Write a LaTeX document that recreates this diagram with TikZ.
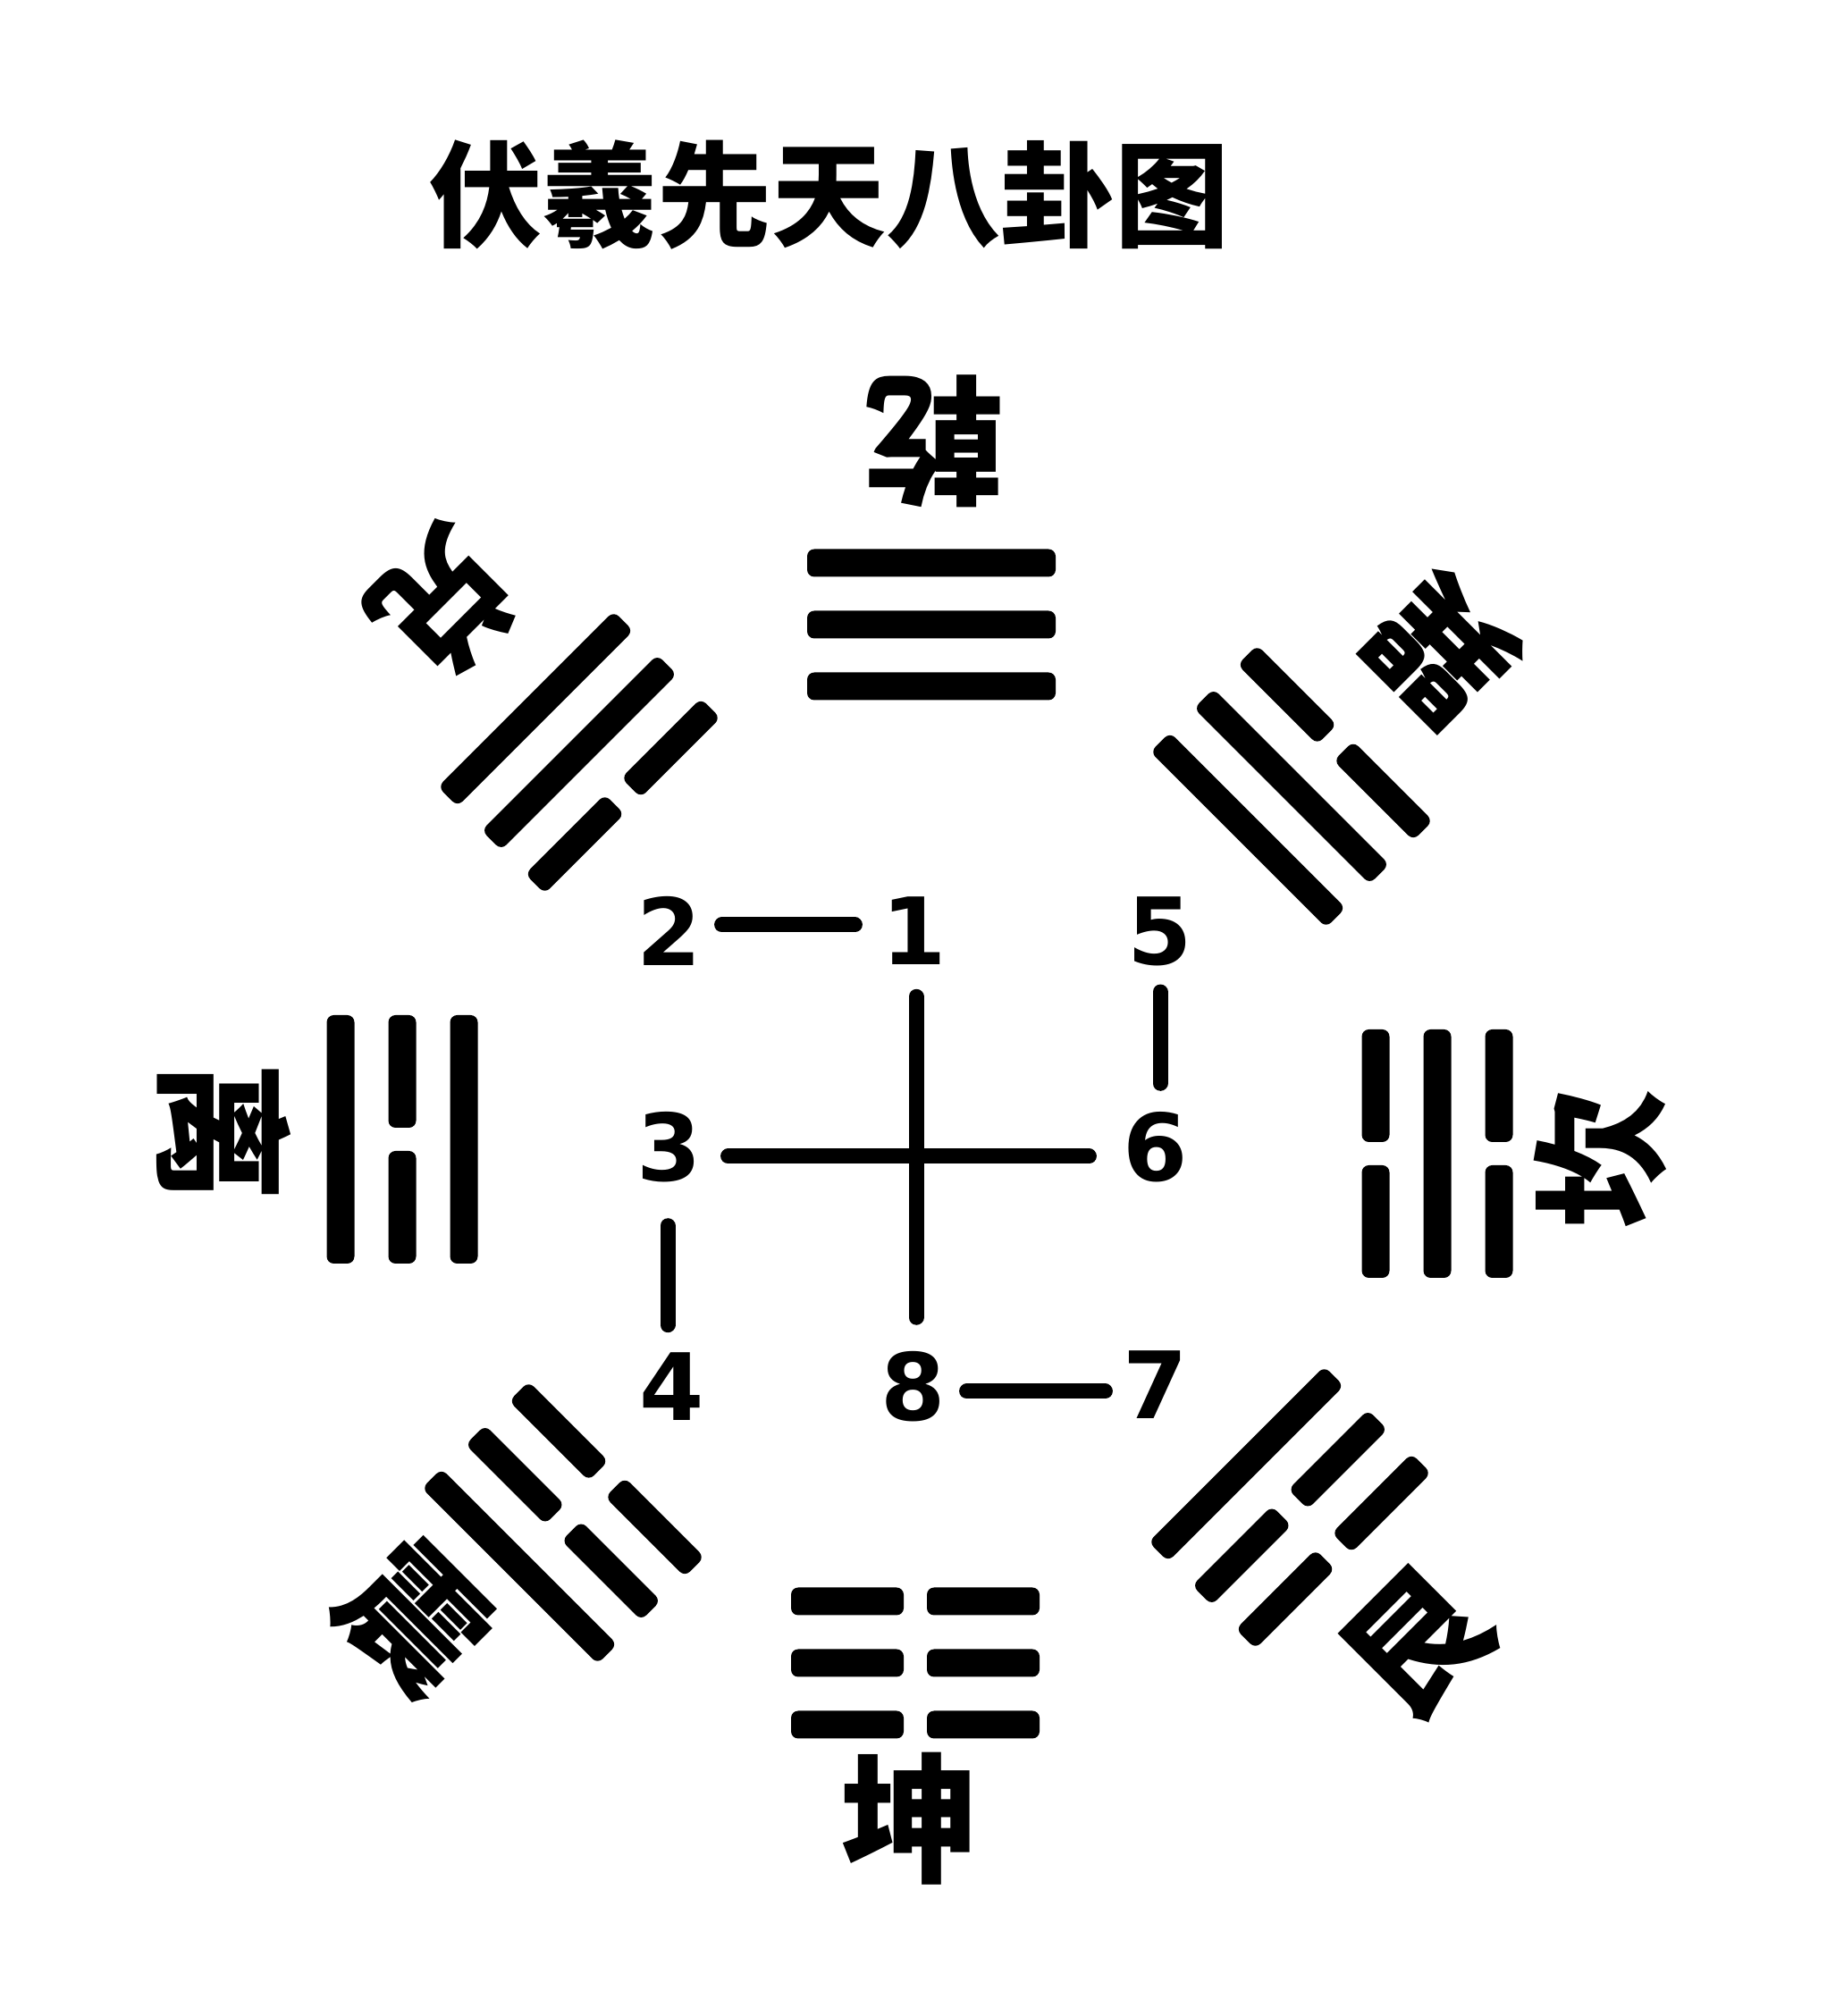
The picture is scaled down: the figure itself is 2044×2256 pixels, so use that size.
\documentclass[tikz,border=0pt]{standalone}
\usepackage{fontspec}
\newfontfamily\cjk{Noto Sans CJK SC}
\newfontfamily\digitfont{DejaVu Sans}
\newcommand\yao[2]{%
  \if#2S%
    \fill[yaofill] (-139,#1-15.5) rectangle (139,#1+15.5);%
  \else%
    \fill[yaofill] (-139,#1-15.5) rectangle (-13,#1+15.5);%
    \fill[yaofill] (13,#1-15.5) rectangle (139,#1+15.5);%
  \fi}
\newcommand\gua[6]{%
  \begin{scope}[shift={(#1,#2)},rotate=#3]
    \yao{-69}{#4}\yao{0}{#5}\yao{69}{#6}
  \end{scope}}
\begin{document}
\begin{tikzpicture}[x=0.5pt,y=0.5pt,
  yaofill/.style={fill=black,rounded corners=4pt},
  num/.style={font=\digitfont\bfseries\fontsize{52}{52}\selectfont,inner sep=0pt},
  guaname/.style={font=\cjk\bfseries\fontsize{78}{78}\selectfont,inner sep=0pt},
  link/.style={line width=8.5pt,line cap=round}]
\fill[white] (0,0) rectangle (2044,2256);
\useasboundingbox (0,0) rectangle (2044,2256);

% title
\node[font=\cjk\bfseries\fontsize{64}{64}\selectfont,inner sep=0pt] (title) at (927,2038) {伏羲先天八卦图};

% trigrams: x, y, rotation, inner, middle, outer
\gua{1042}{1557}{0}{S}{S}{S}     % qian
\gua{1024}{395}{180}{B}{B}{B}    % kun
\gua{450}{981}{90}{S}{B}{S}      % li
\gua{1608}{965}{-90}{B}{S}{B}    % kan
\gua{648}{1414}{45}{B}{S}{S}     % dui
\gua{1445}{1376}{-45}{S}{S}{B}   % xun
\gua{630}{552}{135}{B}{B}{S}     % zhen
\gua{1443}{569}{-135}{S}{B}{B}   % gen

% trigram names
\node[guaname,rotate=180] (qian) at (1045,1762) {乾};
\node[guaname] (kun) at (1018,221) {坤};
\node[guaname,rotate=-90] (li) at (250,989) {离};
\node[guaname,rotate=90] (kan) at (1790,958) {坎};
\node[guaname,rotate=-135] (dui) at (498,1581) {兑};
\node[guaname,rotate=135] (xun) at (1613,1529) {巽};
\node[guaname,rotate=-45] (zhen) at (464,445) {震};
\node[guaname,rotate=45] (gen) at (1587,417) {艮};

% numbers
\node[num] (n1) at (1023,1214) {1};
\node[num] (n2) at (749,1214) {2};
\node[num] (n5) at (1298,1214) {5};
\node[num] (n3) at (749,972) {3};
\node[num] (n6) at (1293,972) {6};
\node[num] (n4) at (752,704) {4};
\node[num] (n8) at (1022,704) {8};
\node[num] (n7) at (1293,706) {7};

% connectors
\draw[link,shorten <=11pt,shorten >=15pt] ([yshift=3.5pt]n2.east) -- ([yshift=3.5pt]n1.west);
\draw[link,shorten <=17.5pt,shorten >=19pt] ([xshift=1pt]n1.south) -- ([xshift=1.5pt]n8.north);
\draw[link,shorten <=14.5pt,shorten >=19pt] ([yshift=-5pt]n3.east) -- ([yshift=-5pt]n6.west);
\draw[link,shorten <=14.5pt,shorten >=16pt] ([xshift=0pt]n5.south) -- ([xshift=2.5pt]n6.north);
\draw[link,shorten <=24pt,shorten >=15.5pt] ([xshift=-1pt]n3.south) -- ([xshift=-2.5pt]n4.north);
\draw[link,shorten <=11.5pt,shorten >=10pt] ([yshift=-2.5pt]n8.east) -- ([yshift=-3.5pt]n7.west);
\end{tikzpicture}
\end{document}
